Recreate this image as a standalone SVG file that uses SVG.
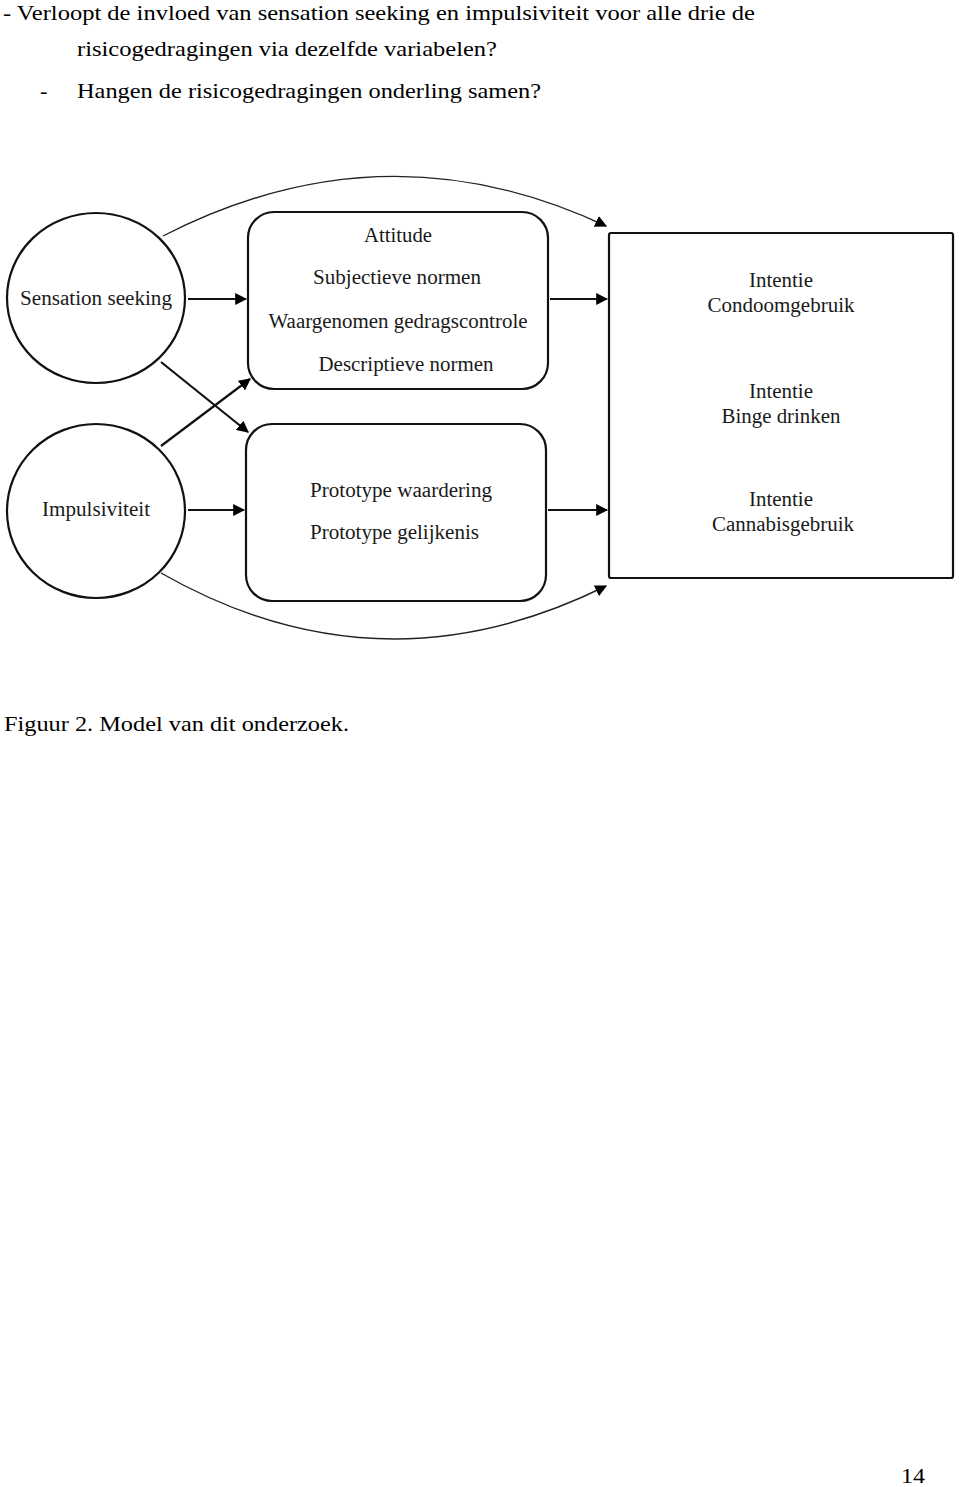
<svg xmlns="http://www.w3.org/2000/svg" width="960" height="1487" viewBox="0 0 960 1487">
<defs>
<marker id="ah" viewBox="0 0 10 10" refX="9" refY="5" markerWidth="12" markerHeight="12" markerUnits="userSpaceOnUse" orient="auto"><path d="M0,0 L10,5 L0,10 z" fill="#000"/></marker>
</defs>
<style>
text{font-family:'Liberation Serif',serif}
.t{font-size:22px;fill:#000}
.d{font-size:20px;fill:#1a1a1a}
.shape{fill:#fff;stroke:#111;stroke-width:2.2}
.c{fill:none;stroke:#111;stroke-width:2.2}
.cv{fill:none;stroke:#222;stroke-width:1.4}
</style>
<rect width="960" height="1487" fill="#fff"/>
<text class="t" x="3" y="20" textLength="752" lengthAdjust="spacingAndGlyphs">- Verloopt de invloed van sensation seeking en impulsiviteit voor alle drie de</text>
<text class="t" x="77" y="56" textLength="420" lengthAdjust="spacingAndGlyphs">risicogedragingen via dezelfde variabelen?</text>
<text class="t" x="40" y="98">-</text>
<text class="t" x="77" y="98" textLength="464" lengthAdjust="spacingAndGlyphs">Hangen de risicogedragingen onderling samen?</text>

<g id="connectors">
<path class="cv" d="M163,236 Q385,122 606,226" marker-end="url(#ah)"/>
<path class="cv" d="M161,573 Q380,698 606,586" marker-end="url(#ah)"/>
<line class="c" x1="188" y1="299" x2="246" y2="299" marker-end="url(#ah)"/>
<line class="c" x1="550" y1="299" x2="607" y2="299" marker-end="url(#ah)"/>
<line class="c" x1="188" y1="510" x2="244" y2="510" marker-end="url(#ah)"/>
<line class="c" x1="548" y1="510" x2="607" y2="510" marker-end="url(#ah)"/>
<line class="c" x1="161" y1="362" x2="248" y2="432" marker-end="url(#ah)"/>
<line class="c" x1="161" y1="446" x2="250" y2="379" marker-end="url(#ah)"/>
</g>

<g id="sensation">
<ellipse class="shape" cx="96" cy="298" rx="89" ry="85"/>
<text class="d" x="96" y="305" text-anchor="middle" textLength="152" lengthAdjust="spacingAndGlyphs">Sensation seeking</text>
</g>
<g id="impulsiviteit">
<ellipse class="shape" cx="96" cy="511" rx="89" ry="87"/>
<text class="d" x="96" y="516" text-anchor="middle" textLength="108" lengthAdjust="spacingAndGlyphs">Impulsiviteit</text>
</g>
<g id="box1">
<rect class="shape" x="248" y="212" width="300" height="177" rx="26"/>
<text class="d" x="398" y="242" text-anchor="middle" textLength="68" lengthAdjust="spacingAndGlyphs">Attitude</text>
<text class="d" x="397" y="284" text-anchor="middle" textLength="168" lengthAdjust="spacingAndGlyphs">Subjectieve normen</text>
<text class="d" x="398" y="328" text-anchor="middle" textLength="259" lengthAdjust="spacingAndGlyphs">Waargenomen gedragscontrole</text>
<text class="d" x="406" y="371" text-anchor="middle" textLength="175" lengthAdjust="spacingAndGlyphs">Descriptieve normen</text>
</g>
<g id="box2">
<rect class="shape" x="246" y="424" width="300" height="177" rx="26"/>
<text class="d" x="310" y="497" textLength="182" lengthAdjust="spacingAndGlyphs">Prototype waardering</text>
<text class="d" x="310" y="539" textLength="169" lengthAdjust="spacingAndGlyphs">Prototype gelijkenis</text>
</g>
<g id="intenties">
<rect class="shape" x="609" y="233" width="344" height="345" rx="2"/>
<text class="d" x="781" y="287" text-anchor="middle" textLength="64" lengthAdjust="spacingAndGlyphs">Intentie</text>
<text class="d" x="781" y="312" text-anchor="middle" textLength="147" lengthAdjust="spacingAndGlyphs">Condoomgebruik</text>
<text class="d" x="781" y="398" text-anchor="middle" textLength="64" lengthAdjust="spacingAndGlyphs">Intentie</text>
<text class="d" x="781" y="423" text-anchor="middle" textLength="119" lengthAdjust="spacingAndGlyphs">Binge drinken</text>
<text class="d" x="781" y="506" text-anchor="middle" textLength="64" lengthAdjust="spacingAndGlyphs">Intentie</text>
<text class="d" x="783" y="531" text-anchor="middle" textLength="142" lengthAdjust="spacingAndGlyphs">Cannabisgebruik</text>
</g>

<text class="t" x="4" y="731" textLength="345" lengthAdjust="spacingAndGlyphs">Figuur 2. Model van dit onderzoek.</text>
<text class="t" x="901" y="1483" textLength="24" lengthAdjust="spacingAndGlyphs">14</text>
</svg>
